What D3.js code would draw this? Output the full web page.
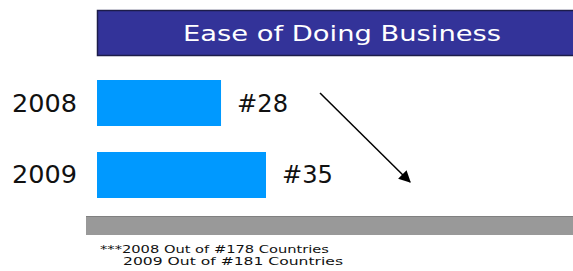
<!DOCTYPE html>
<html><head><meta charset="utf-8">
<script src="https://cdn.jsdelivr.net/npm/d3@7"></script>
<style>html,body{margin:0;padding:0;background:#fff;}svg{display:block;}</style>
</head><body>
<script>
const categories = ["2008", "2009"];
const ranks = [28, 35];
const rankLabels = ["#28", "#35"];
const title = "Ease of Doing Business";
const footnotes = ["***2008 Out of #178 Countries", "2009 Out of #181 Countries"];

const W = 573, H = 271;
const svg = d3.select("body").append("svg").attr("width", W).attr("height", H);
const font = "'DejaVu Sans', sans-serif";

// title box
svg.append("rect").attr("x", 97.5).attr("y", 10.5).attr("width", 480).attr("height", 45)
  .attr("fill", "#333399").attr("stroke", "#1c1c4a").attr("stroke-width", 1.5);
svg.append("text").attr("x", 342).attr("y", 41).attr("text-anchor", "middle")
  .attr("fill", "#fff").attr("font-family", font).attr("font-size", 21)
  .attr("textLength", 318).attr("lengthAdjust", "spacingAndGlyphs").text(title);

const x = d3.scaleLinear().domain([8.7, 35]).range([97, 266]);
const y = d3.scaleBand().domain(categories).range([80, 198]).paddingInner(0.361).paddingOuter(0);

svg.selectAll("rect.bar").data(ranks).join("rect").attr("class", "bar")
  .attr("x", x.range()[0]).attr("y", (d, i) => y(categories[i]))
  .attr("width", d => x(d) - x.range()[0]).attr("height", y.bandwidth())
  .attr("fill", "#0099ff");

svg.selectAll("text.cat").data(categories).join("text").attr("class", "cat")
  .attr("x", 12).attr("y", d => y(d) + y.bandwidth() / 2 + 8.5)
  .attr("font-family", font).attr("font-size", 24).attr("fill", "#111")
  .attr("textLength", 65).attr("lengthAdjust", "spacingAndGlyphs").text(d => d);

svg.selectAll("text.val").data(ranks).join("text").attr("class", "val")
  .attr("x", d => x(d) + 16).attr("y", (d, i) => y(categories[i]) + y.bandwidth() / 2 + 8.5)
  .attr("font-family", font).attr("font-size", 24).attr("fill", "#111")
  .attr("textLength", 51).attr("lengthAdjust", "spacingAndGlyphs").text((d, i) => rankLabels[i]);

// arrow
svg.append("defs").append("marker").attr("id", "ah").attr("viewBox", "0 0 10 10")
  .attr("refX", 9).attr("refY", 5).attr("markerWidth", 12).attr("markerHeight", 12)
  .attr("markerUnits", "userSpaceOnUse").attr("orient", "auto")
  .append("path").attr("d", "M0,0 L10,5 L0,10 z").attr("fill", "#000");
svg.append("line").attr("x1", 320).attr("y1", 93).attr("x2", 410).attr("y2", 182)
  .attr("stroke", "#000").attr("stroke-width", 1.5).attr("marker-end", "url(#ah)");

// gray bar
svg.append("rect").attr("x", 86).attr("y", 216).attr("width", 490).attr("height", 19)
  .attr("fill", "#999999");
svg.append("line").attr("x1", 86).attr("x2", 573).attr("y1", 216.5).attr("y2", 216.5)
  .attr("stroke", "#808080").attr("stroke-width", 1);

svg.selectAll("text.fn").data(footnotes).join("text").attr("class", "fn")
  .attr("x", (d, i) => i === 0 ? 100 : 123).attr("y", (d, i) => 252.5 + i * 12.5)
  .attr("font-family", font).attr("font-size", 10.5).attr("fill", "#111")
  .attr("textLength", (d, i) => i === 0 ? 229 : 220).attr("lengthAdjust", "spacingAndGlyphs")
  .text(d => d);
</script>
</body></html>
